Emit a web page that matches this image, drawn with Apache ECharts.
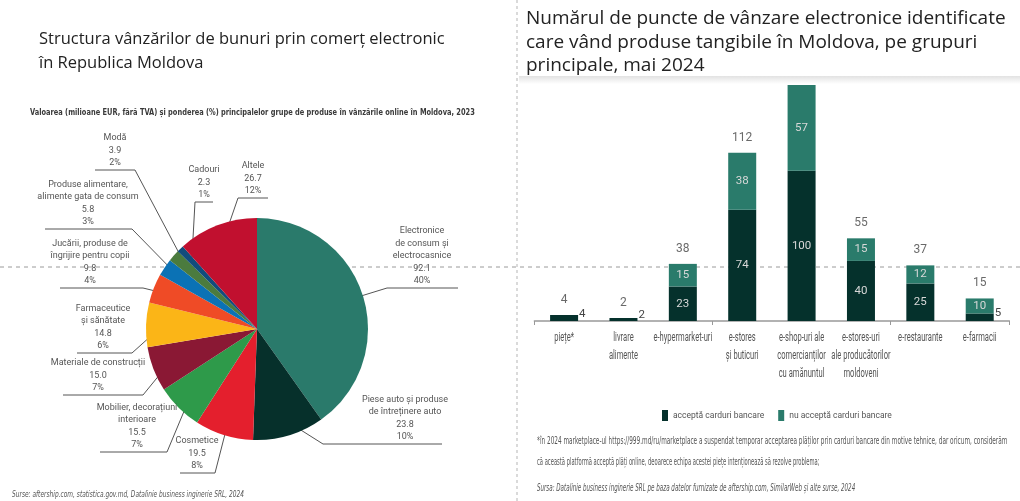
<!DOCTYPE html>
<html>
<head>
<meta charset="utf-8">
<script src="https://cdn.jsdelivr.net/npm/echarts@6/dist/echarts.min.js"></script>
<style>
    html, body { margin: 0; padding: 0; background: #fff; }
    #chart { width: 1020px; height: 501px; }
</style>
</head>
<body>
<div id="chart"></div>
<script>
// pie: sales value by product group (mil. EUR), 2023
var pieNames = [
    'Electronice\nde consum și\nelectrocasnice',
    'Piese auto și produse\nde întreținere auto',
    'Cosmetice',
    'Mobilier, decorațiuni\ninterioare',
    'Materiale de construcții',
    'Farmaceutice\nși sănătate',
    'Jucării, produse de\nîngrijire pentru copii',
    'Produse alimentare,\nalimente gata de consum',
    'Modă',
    'Cadouri',
    'Altele'
];
var pieValues = [92.1, 23.8, 19.5, 15.5, 15.0, 14.8, 9.8, 5.8, 3.9, 2.3, 26.7];
var piePercents = [40, 10, 8, 7, 7, 6, 4, 3, 2, 1, 12];
var pieColors = ['#2a7a6b', '#06302b', '#e41f2d', '#2e9a4a', '#8a1834', '#fbb517',
                 '#ef4b26', '#0b72b5', '#4b7b3e', '#124c7c', '#c1102f'];

// bars: number of e-commerce outlets, May 2024
var barCategories = [
    'piețe*',
    'livrare\nalimente',
    'e-hypermarket-uri',
    'e-stores\nși buticuri',
    'e-shop-uri ale\ncomercianților\ncu amănuntul',
    'e-stores-uri\nale producătorilor\nmoldoveni',
    'e-restaurante',
    'e-farmacii'
];
var acceptCards = [4, 2, 23, 74, 100, 40, 25, 5];
var noCards = [0, 0, 15, 38, 57, 15, 12, 10];
var totals = [4, 2, 38, 112, 157, 55, 37, 15];

// label placement for the pie (text centre x, underline y, underline x1, x2, elbow side)
var pieLabelPos = [
    [422, 288, 387, 458, 'L'],
    [405, 444, 323, 442, 'L'],
    [197, 473, 180, 215, 'R'],
    [137, 452, 100, 167, 'R'],
    [98, 395, 63, 143, 'R'],
    [103, 353, 77, 132, 'R'],
    [90, 288, 60, 143, 'R'],
    [88, 229, 45, 132, 'R'],
    [115, 170, 95, 135, 'R'],
    [204, 202, 195, 213, 'L'],
    [253, 198, 238, 268, 'L']
];

var PIE_CX = 257, PIE_CY = 329, PIE_R = 111;
var narrow = "Roboto, 'DejaVu Sans Condensed', sans-serif";
var titleFont = "'Open Sans', 'Noto Sans', sans-serif";

var pieSum = pieValues.reduce(function (a, b) { return a + b; }, 0);
var pieMid = [];
var run = 0;
pieValues.forEach(function (v) {
    pieMid.push((run + v / 2) / pieSum * Math.PI * 2);
    run += v;
});

var pieData = pieValues.map(function (v, i) {
    return { name: pieNames[i], value: v, itemStyle: { color: pieColors[i] } };
});

// bar segment labels: small segments get their number to the right of the bar
var acceptData = acceptCards.map(function (v) {
    var small = v < 8;
    return {
        value: v,
        label: small ? { position: 'right', offset: [-2, -4], color: '#444', distance: 3 } : {}
    };
});
var noData = noCards.map(function (v) {
    return { value: v, label: { show: v > 0 } };
});
var totalData = totals.map(function (v, i) {
    // the tallest total sits under the title band, not shown in the picture
    return { value: v, label: { show: i !== 4 } };
});

var chart = echarts.init(document.getElementById('chart'));

var option = {
    backgroundColor: '#ffffff',
    animation: false,
    title: [
        {
            text: 'Structura vânzărilor de bunuri prin comerț electronic\nîn Republica Moldova',
            left: 39, top: 27, padding: 0,
            textStyle: { fontFamily: titleFont, fontSize: 16.5, fontWeight: 'normal', color: '#222', lineHeight: 24 }
        },
        {
            text: 'Numărul de puncte de vânzare electronice identificate\ncare vând produse tangibile în Moldova, pe grupuri\nprincipale, mai 2024',
            left: 526, top: 7, padding: 0,
            textStyle: { fontFamily: titleFont, fontSize: 19, fontWeight: 'normal', color: '#222', lineHeight: 23.5 }
        }
    ],
    graphic: [
        {
            id: 'band', type: 'rect', z: -6,
            shape: { x: 519, y: 76, width: 501, height: 8 },
            style: {
                fill: new echarts.graphic.LinearGradient(0, 0, 0, 1, [
                    { offset: 0, color: '#e2e2e2' }, { offset: 1, color: '#ffffff' }
                ])
            }
        },
        {
            id: 'vsep', type: 'line', z: -5,
            shape: { x1: 517, y1: 0, x2: 517, y2: 501 },
            style: { stroke: '#b5b5b5', lineWidth: 1, lineDash: [3, 3] }
        },
        {
            id: 'hsep', type: 'line', z: -5,
            shape: { x1: 0, y1: 267, x2: 1020, y2: 267 },
            style: { stroke: '#9a9a9a', lineWidth: 1, lineDash: [4, 4] }
        },
        {
            id: 'sub', type: 'text', left: 30, top: 108, scaleX: 0.82,
            style: {
                text: 'Valoarea (milioane EUR, fără TVA) și ponderea (%) principalelor grupe de produse în vânzările online în Moldova, 2023',
                font: "bold 9px 'DejaVu Sans Condensed', sans-serif", fill: '#3a3a3a'
            }
        },
        {
            id: 'src1', type: 'text', left: 12, top: 490, scaleX: 0.77,
            style: {
                text: 'Surse: aftership.com, statistica.gov.md, Datalinie business inginerie SRL, 2024',
                font: "italic 8.5px 'DejaVu Sans Condensed', sans-serif", fill: '#555'
            }
        },
        {
            id: 'fn1', type: 'text', left: 537, top: 436, scaleX: 0.61,
            style: {
                text: '*în 2024 marketplace-ul https://999.md/ru/marketplace a suspendat temporar acceptarea plăților prin carduri bancare din motive tehnice, dar oricum, considerăm',
                font: "10.5px 'DejaVu Sans Condensed', sans-serif", fill: '#555'
            }
        },
        {
            id: 'fn2', type: 'text', left: 537, top: 457, scaleX: 0.55,
            style: {
                text: 'că această platformă acceptă plăți online, deoarece echipa acestei piețe intenționează să rezolve problema;',
                font: "10.5px 'DejaVu Sans Condensed', sans-serif", fill: '#555'
            }
        },
        {
            id: 'src2', type: 'text', left: 537, top: 483, scaleX: 0.59,
            style: {
                text: 'Sursa: Datalinie business inginerie SRL pe baza datelor furnizate de aftership.com, SimilarWeb și alte surse, 2024',
                font: "italic 10.5px 'DejaVu Sans Condensed', sans-serif", fill: '#555'
            }
        }
    ],
    legend: {
        left: 657, top: 405,
        icon: 'rect', itemWidth: 6, itemHeight: 11, itemGap: 14,
        textStyle: { fontFamily: narrow, fontSize: 8.5, color: '#555' },
        data: ['acceptă carduri bancare', 'nu acceptă carduri bancare']
    },
    grid: { left: 534.4, right: 10.6, top: 85, bottom: 180 },
    xAxis: {
        type: 'category',
        data: barCategories,
        axisLine: { lineStyle: { color: '#999', width: 1.5 } },
        axisTick: { show: true, length: 4, lineStyle: { color: '#999' } },
        // category names are drawn condensed below, at the axis positions
        axisLabel: { show: false }
    },
    yAxis: {
        type: 'value', min: 0, max: 157, show: false, splitLine: { show: false }
    },
    series: [
        {
            type: 'pie',
            center: [PIE_CX, PIE_CY],
            radius: PIE_R,
            startAngle: 90,
            clockwise: true,
            data: pieData,
            label: {
                position: 'outside',
                width: 150, overflow: 'none',
                fontFamily: narrow, fontSize: 9, lineHeight: 12.5, color: '#555',
                align: 'center',
                formatter: function (p) {
                    return pieNames[p.dataIndex] + '\n' + pieValues[p.dataIndex].toFixed(1) + '\n' + piePercents[p.dataIndex] + '%';
                }
            },
            labelLine: { show: true, lineStyle: { color: '#555', width: 1 } },
            labelLayout: function (params) {
                var L = pieLabelPos[params.dataIndex];
                var a = pieMid[params.dataIndex];
                var dot = [PIE_CX + PIE_R * 0.85 * Math.sin(a), PIE_CY - PIE_R * 0.85 * Math.cos(a)];
                var elbow = L[4] === 'L' ? [L[2], L[1]] : [L[3], L[1]];
                var end = L[4] === 'L' ? [L[3], L[1]] : [L[2], L[1]];
                return {
                    x: L[0], y: L[1] - 1,
                    align: 'center', verticalAlign: 'bottom',
                    labelLinePoints: [dot, elbow, end]
                };
            }
        },
        {
            name: 'acceptă carduri bancare',
            type: 'bar', stack: 'total', barWidth: 28,
            itemStyle: { color: '#05312c' },
            label: {
                show: true, position: 'inside', color: '#d8d8d8',
                fontFamily: narrow, fontSize: 11.5
            },
            data: acceptData
        },
        {
            name: 'nu acceptă carduri bancare',
            type: 'bar', stack: 'total', barWidth: 28,
            itemStyle: { color: '#2a7b6b' },
            label: {
                show: true, position: 'inside', color: '#d8d8d8',
                fontFamily: narrow, fontSize: 11.5
            },
            data: noData
        },
        {
            type: 'scatter',
            symbolSize: 0,
            silent: true,
            label: {
                show: true, position: 'top', distance: 9, color: '#444',
                fontFamily: narrow, fontSize: 12
            },
            data: totalData
        }
    ]
};

chart.setOption(option);

// condensed category labels placed from the category axis
var axisY = chart.convertToPixel({ yAxisIndex: 0 }, 0);
var catLabels = barCategories.map(function (c, i) {
    return {
        id: 'cat' + i, type: 'text',
        x: chart.convertToPixel({ xAxisIndex: 0 }, i),
        y: axisY + 8,
        scaleX: 0.63,
        style: {
            text: c, font: '12px ' + narrow, fill: '#555',
            align: 'center', verticalAlign: 'top', lineHeight: 18
        }
    };
});
chart.setOption({ graphic: catLabels });
</script>
</body>
</html>
